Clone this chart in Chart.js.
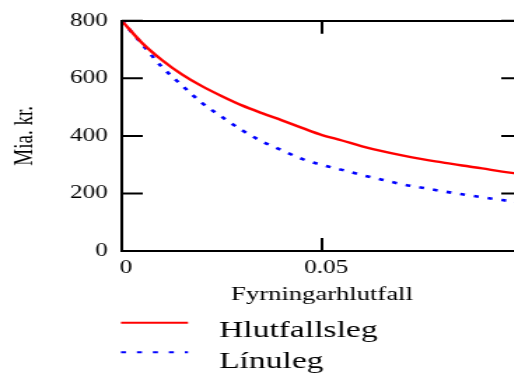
<!DOCTYPE html>
<html>
<head>
<meta charset="utf-8">
<script src="https://cdn.jsdelivr.net/npm/chart.js@4.4.1/dist/chart.umd.min.js"></script>
<style>
  html, body { margin: 0; padding: 0; background: #fff; overflow: hidden; }
  #wrap { width: 514px; height: 373px; overflow: hidden; }
  #chart { display: block; }
</style>
</head>
<body>
<!-- the original plot is stretched sideways, so the canvas is too -->
<div id="wrap"><canvas id="chart" width="380" height="373" style="width:532px;height:373px"></canvas></div>
<script>
const rates = [0, 0.005, 0.01, 0.015, 0.02, 0.025, 0.03, 0.035, 0.04, 0.045, 0.05,
               0.055, 0.06, 0.065, 0.07, 0.075, 0.08, 0.085, 0.09, 0.095, 0.1];
const proportional = [800, 724, 664, 614, 573, 538, 506, 479, 454, 428, 403,
                      384, 364, 347, 332, 319, 308, 297, 287, 276, 267];
const linear = [800, 720, 640, 576, 515, 466, 420, 381, 350, 320, 299,
                282, 264, 248, 232, 220, 208, 197, 187, 177, 168];
const seriesNames = ['Hlutfallsleg', 'Línuleg'];
const xTicks = [0, 0.05];
const xTickLabels = ['0', '0.05'];
const yTicks = [0, 200, 400, 600, 800];
const yTickLabels = ['0', '200', '400', '600', '800'];

const serif = '"Liberation Serif", "Times New Roman", serif';

document.addEventListener("DOMContentLoaded", () => {
    const toPoints = vals => rates.map((r, i) => ({ x: r, y: vals[i] }));

    // short tick marks pointing into the plot, on all four sides
    const innerTicks = {
        id: 'innerTicks',
        afterDatasetsDraw(chart) {
            const { ctx, chartArea: a, scales } = chart;
            ctx.save();
            ctx.strokeStyle = '#000';
            ctx.lineWidth = 2;
            ctx.beginPath();
            scales.y.ticks.forEach(t => {
                const py = scales.y.getPixelForValue(t.value);
                ctx.moveTo(a.left, py); ctx.lineTo(a.left + 15, py);
                ctx.moveTo(a.right - 15, py); ctx.lineTo(a.right, py);
            });
            scales.x.ticks.forEach(t => {
                const px = scales.x.getPixelForValue(t.value);
                ctx.moveTo(px, a.bottom); ctx.lineTo(px, a.bottom - 13);
                ctx.moveTo(px, a.top); ctx.lineTo(px, a.top + 13);
            });
            ctx.stroke();
            ctx.restore();
        }
    };

    // legend stacked under the axis title
    const legendBox = {
        id: 'legendBox',
        afterDraw(chart) {
            const ctx = chart.ctx;
            chart.data.datasets.forEach((ds, i) => {
                const ly = 322.7 + i * 29.6;
                ctx.save();
                ctx.strokeStyle = ds.borderColor;
                ctx.lineWidth = 2;
                ctx.setLineDash(i ? [3.6, 7.8] : []);
                ctx.beginPath();
                ctx.moveTo(86.4, ly);
                ctx.lineTo(134.3, ly);
                ctx.stroke();
                ctx.fillStyle = '#000';
                ctx.font = '24px ' + serif;
                ctx.textBaseline = 'alphabetic';
                ctx.fillText(ds.label, 156.4, 336.7 + i * 31.6);
                ctx.restore();
            });
        }
    };

    const ctx = document.getElementById('chart').getContext('2d');
    new Chart(ctx, {
        type: 'line',
        data: {
            datasets: [{
                label: seriesNames[0],
                data: toPoints(proportional),
                borderColor: '#ff0000',
                borderWidth: 2.4,
                pointRadius: 0,
                cubicInterpolationMode: 'monotone'
            }, {
                label: seriesNames[1],
                data: toPoints(linear),
                borderColor: '#0000ff',
                borderWidth: 2.6,
                borderDash: [3.5, 6.5],
                pointRadius: 0,
                cubicInterpolationMode: 'monotone'
            }]
        },
        options: {
            responsive: false,
            animation: false,
            devicePixelRatio: 1,
            layout: { padding: { top: 12, right: 7, bottom: 62, left: 0 } },
            scales: {
                x: {
                    type: 'linear',
                    position: 'bottom',
                    min: 0,
                    max: 0.1,
                    afterBuildTicks: s => { s.ticks = xTicks.map(v => ({ value: v })); },
                    afterFit: s => { s.height = 60; },
                    grid: { display: false, drawTicks: false },
                    border: { display: true, color: '#000', width: 2 },
                    ticks: {
                        color: '#000',
                        font: { family: serif, size: 18 },
                        padding: 6,
                        labelOffset: 3,
                        maxRotation: 0,
                        autoSkip: false,
                        callback: (v, i) => xTickLabels[i]
                    },
                    title: {
                        display: true,
                        text: 'Fyrningarhlutfall',
                        color: '#000',
                        font: { family: serif, size: 19 },
                        padding: { top: 0, bottom: 5 }
                    }
                },
                x2: {
                    type: 'linear',
                    position: 'top',
                    min: 0,
                    max: 0.1,
                    afterFit: s => { s.height = 0; },
                    grid: { display: false, drawTicks: false },
                    border: { display: true, color: '#000', width: 2 },
                    ticks: { display: false }
                },
                y: {
                    min: 0,
                    max: 800,
                    afterBuildTicks: s => { s.ticks = yTicks.map(v => ({ value: v })); },
                    afterFit: s => { s.width = 87; },
                    grid: { display: false, drawTicks: false },
                    border: { display: true, color: '#000', width: 2 },
                    ticks: {
                        color: '#000',
                        font: { family: serif, size: 18 },
                        padding: 10,
                        autoSkip: false,
                        callback: (v, i) => yTickLabels[i]
                    },
                    title: {
                        display: true,
                        text: 'Mia. kr.',
                        color: '#000',
                        font: { family: serif, size: 19 },
                        padding: { top: 7, bottom: 0 }
                    }
                },
                y2: {
                    position: 'right',
                    min: 0,
                    max: 800,
                    afterFit: s => { s.width = 0; },
                    grid: { display: false, drawTicks: false },
                    border: { display: true, color: '#000', width: 2 },
                    ticks: { display: false }
                }
            },
            plugins: {
                legend: { display: false },
                tooltip: { enabled: false }
            }
        },
        plugins: [innerTicks, legendBox]
    });
});
</script>
</body>
</html>
